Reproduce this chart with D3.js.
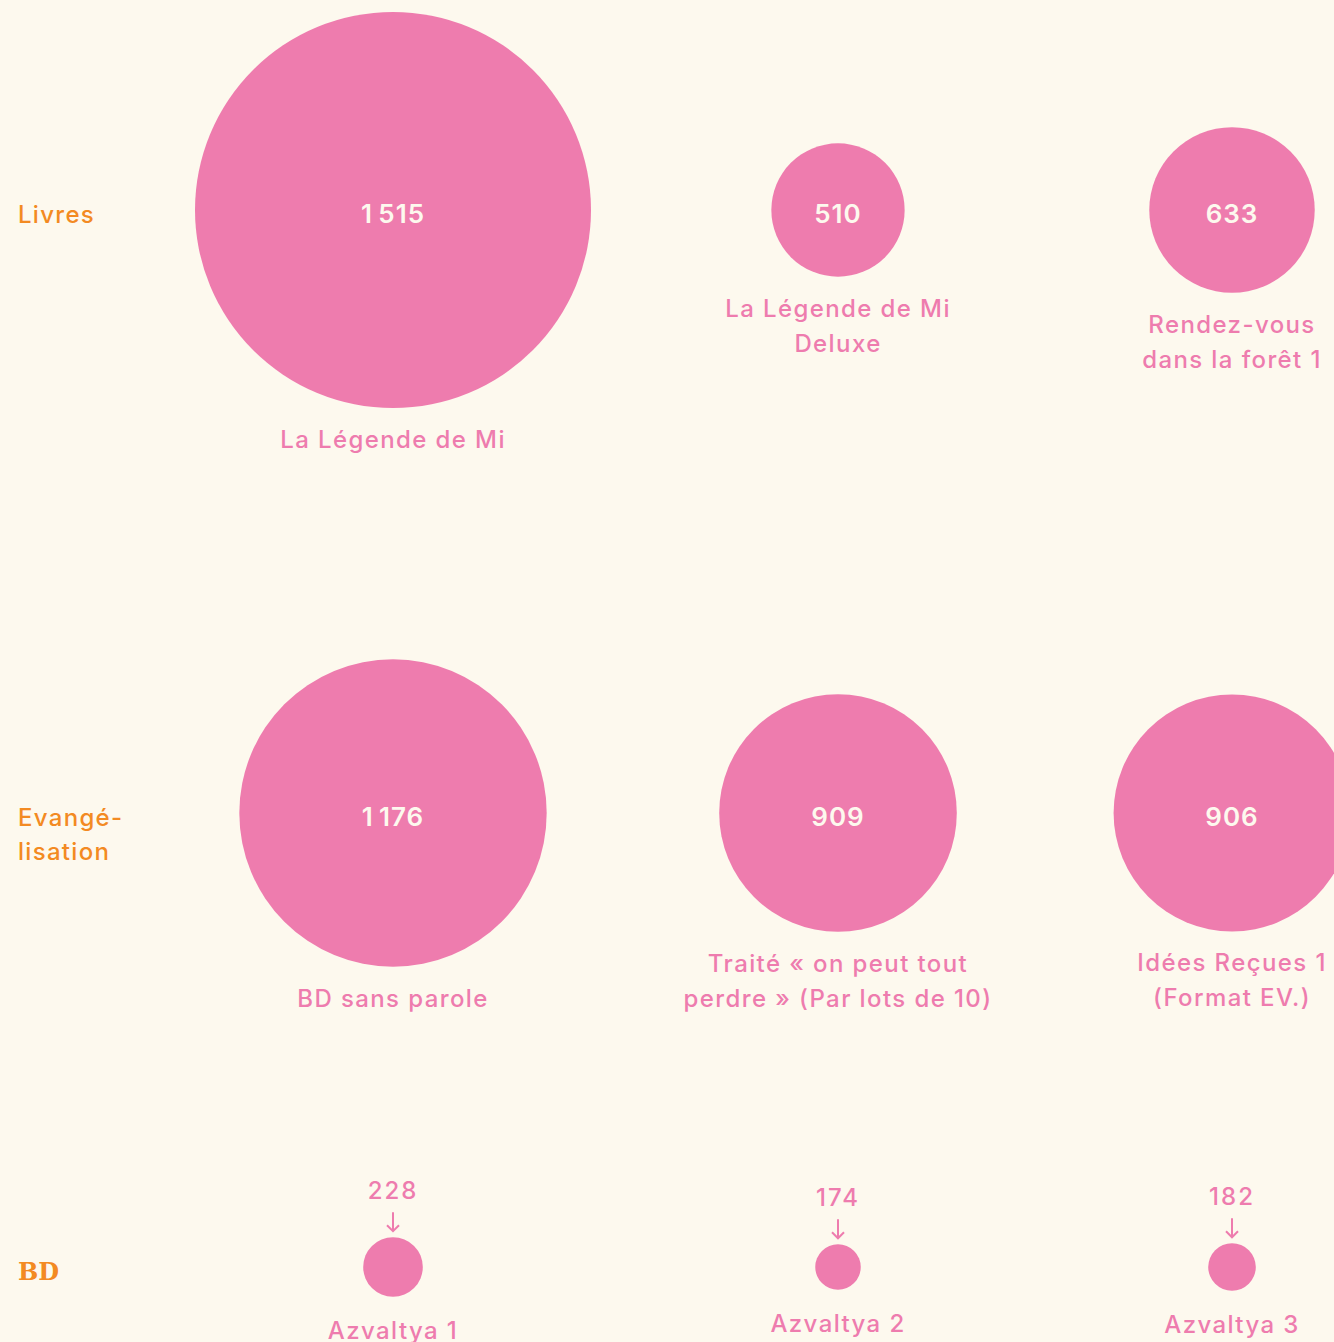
<!DOCTYPE html>
<html>
<head>
<meta charset="utf-8">
<script src="https://cdn.jsdelivr.net/npm/d3@7"></script>
<style>
  html, body { margin: 0; padding: 0; background: #fdf9ee; }
  #chart { width: 1334px; height: 1342px; overflow: hidden; }
  text { font-family: Inter, "Noto Sans", sans-serif; }
</style>
</head>
<body>
<div id="chart"></div>
<script>
// data
const groups = ["Livres", "Evangé-\nlisation", "BD"];
const names = [
    ["La Légende de Mi", "La Légende de Mi\nDeluxe", "Rendez-vous\ndans la forêt 1"],
    ["BD sans parole", "Traité « on peut tout\nperdre » (Par lots de 10)", "Idées Reçues 1\n(Format EV.)"],
    ["Azvaltya 1", "Azvaltya 2", "Azvaltya 3"]
];
const values = [
    [1515, 510, 633],
    [1176, 909, 906],
    [228, 174, 182]
];

const pink = "#ee7cae";
const orange = "#f38a22";
const bg = "#fdf9ee";

let width = 1334, height = 1342;

let svg = d3.select("#chart").append("svg")
    .attr("width", width)
    .attr("height", height);

// scales
let r = d3.scaleLinear().domain([0, 1515]).range([0, 198]);
let x = d3.scaleOrdinal().domain([0, 1, 2]).range([393, 838, 1232]);
let y = d3.scaleOrdinal().domain(groups).range([210, 813, 1267]);

let fmt = v => d3.format(",")(v).replace(",", "\u2009");

// flatten
let cells = [];
groups.forEach((g, gi) => {
    values[gi].forEach((v, i) => {
        cells.push({group: g, gi: gi, col: i, value: v, name: names[gi][i]});
    });
});

// row labels
groups.forEach(function (g, gi) {
    let lines = g.split("\n");
    let t = svg.append("text")
        .attr("x", 18)
        .attr("y", y(g) + 13)
        .attr("fill", orange)
        .style("font-size", "24px")
        .style("font-weight", 500)
        .style("letter-spacing", "1.3px");
    if (gi === 2) {
        // this one falls back to a slab serif in the original
        t.style("font-family", "'DejaVu Serif', serif")
            .style("font-weight", "bold")
            .style("font-size", "24px")
            .style("letter-spacing", "0px");
    }
    lines.forEach((l, li) => {
        t.append("tspan").attr("x", 18).attr("dy", li === 0 ? 0 : 34).text(l);
    });
});

let cell = svg.selectAll(".cell")
    .data(cells)
    .enter().append("g")
    .attr("class", "cell")
    .attr("transform", d => "translate(" + x(d.col) + "," + y(d.group) + ")");

cell.append("circle")
    .attr("r", d => r(d.value))
    .attr("fill", pink);

// values inside big circles
cell.filter(d => d.gi < 2).append("text")
    .attr("text-anchor", "middle")
    .attr("y", 13)
    .attr("fill", bg)
    .style("font-size", "26px")
    .style("font-weight", 600)
    .style("letter-spacing", "1px")
    .text(d => fmt(d.value));

// small circles: value above with an arrow
let small = cell.filter(d => d.gi === 2);
small.append("text")
    .attr("text-anchor", "middle")
    .attr("y", d => -r(d.value) - 38)
    .attr("fill", pink)
    .style("font-size", "24px")
    .style("font-weight", 500)
    .style("letter-spacing", "2px")
    .text(d => fmt(d.value));

small.append("path")
    .attr("d", d => {
        let top = -r(d.value) - 6;
        return "M0," + (top - 19) + "V" + top + "M-6," + (top - 6) + "L0," + top + "L6," + (top - 6);
    })
    .attr("fill", "none")
    .attr("stroke", pink)
    .attr("stroke-width", 2);

// names below
cell.each(function (d) {
    let lines = d.name.split("\n");
    let t = d3.select(this).append("text")
        .attr("text-anchor", "middle")
        .attr("y", r(d.value) + (d.gi === 2 ? 42 : 40))
        .attr("fill", pink)
        .style("font-size", "24px")
        .style("font-weight", 500)
        .style("letter-spacing", "1.4px");
    lines.forEach((l, li) => {
        t.append("tspan").attr("x", 0).attr("dy", li === 0 ? 0 : 35).text(l);
    });
});
</script>
</body>
</html>
